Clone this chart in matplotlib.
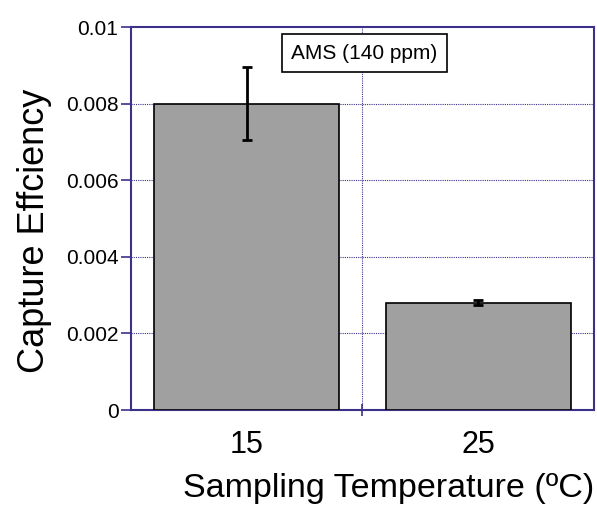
import matplotlib
matplotlib.use("Agg")
import matplotlib.pyplot as plt

plt.rcParams['font.family'] = ['Liberation Sans', 'DejaVu Sans']

# data
temps = ["15", "25"]
efficiency = [0.0080, 0.0028]
errors = [0.00095, 0.00007]
y_ticks = [0, 0.002, 0.004, 0.006, 0.008, 0.01]
y_tick_labels = ["0", "0.002", "0.004", "0.006", "0.008", "0.01"]

axis_color = "#3b318a"

fig = plt.figure(figsize=(5.97, 5.05), dpi=100)
ax = fig.add_axes([0.2194, 0.188, 0.7756, 0.7585])

x = range(len(temps))
ax.bar(x, efficiency, width=0.8, color="#a0a0a0", edgecolor="black", linewidth=1.2,
       yerr=errors, capsize=3.5, error_kw=dict(ecolor="black", elinewidth=2, capthick=2),
       zorder=3)

ax.set_xlim(-0.5, 1.5)
ax.set_ylim(0, 0.01)

# dotted grid
for yv in y_ticks[1:-1]:
    ax.axhline(yv, color=axis_color, linestyle=(0, (1, 1)), linewidth=0.8, zorder=1)
ax.axvline(0.5, color=axis_color, linestyle=(0, (1, 1)), linewidth=0.8, zorder=1)

ax.set_yticks(y_ticks)
ax.set_yticklabels(y_tick_labels, fontsize=15)
ax.set_xticks(list(x))
ax.set_xticklabels(temps, fontsize=22)
ax.set_xticks([0.5], minor=True)
ax.tick_params(axis="x", which="major", length=0, pad=14)
ax.tick_params(axis="x", which="minor", length=8, color=axis_color, direction="inout", width=1.2)
ax.tick_params(axis="y", length=7, color=axis_color, direction="out", width=1.2, pad=2)

for s in ax.spines.values():
    s.set_color(axis_color)
    s.set_linewidth(1.5)

ax.set_ylabel("Capture Effciency", fontsize=26)
ax.yaxis.set_label_coords(-0.171, 0.467)
ax.set_xlabel("Sampling Temperature (\u00baC)", fontsize=24.5)
ax.xaxis.set_label_coords(0.557, -0.164)

ax.text(0.504, 0.932, "AMS (140 ppm)", transform=ax.transAxes, fontsize=15,
        ha="center", va="center", zorder=5,
        bbox=dict(boxstyle="square,pad=0.45", facecolor="white", edgecolor="black", linewidth=1.2))

fig.savefig("out.png", dpi=100)
